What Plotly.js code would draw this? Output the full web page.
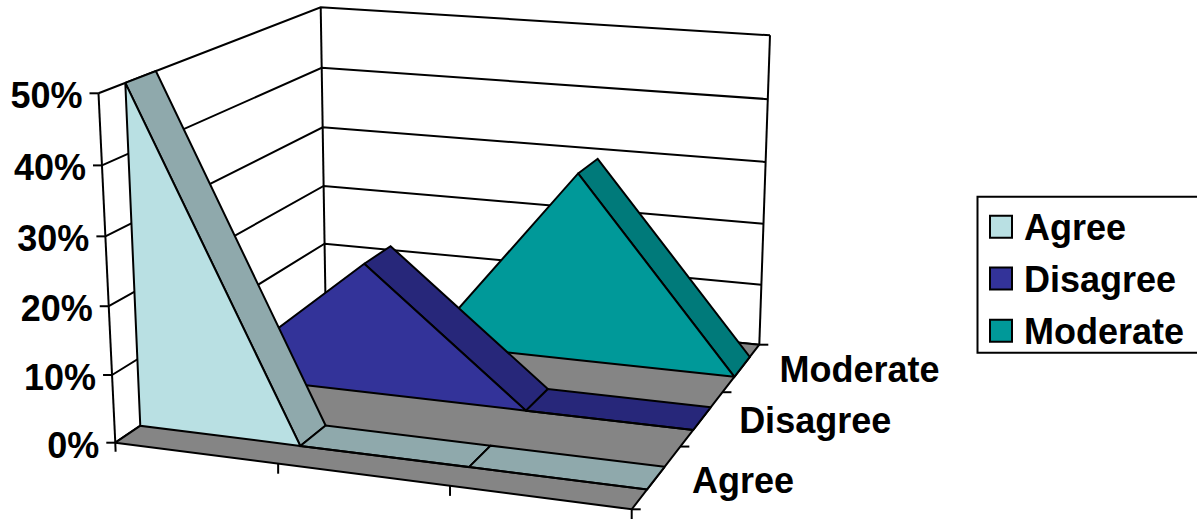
<!DOCTYPE html>
<html>
<head>
<meta charset="utf-8">
<script src="https://cdn.plot.ly/plotly-3.0.1.min.js"></script>
<style>html,body{margin:0;padding:0;background:#fff}#chart{width:1197px;height:519px}</style>
</head>
<body>
<div id="chart"></div>
<script>
// Responses per series at four unlabelled points along the horizontal axis (percent)
const seriesNames = ['Agree', 'Disagree', 'Moderate'];
const agreeValues = [50, 0, 0, 0];
const disagreeValues = [0, 20, 0, 0];
const moderateValues = [0, 0, 30, 0];
const percentTicks = [0, 10, 20, 30, 40, 50];

const frontColors = ['#B9E0E3', '#333399', '#009999'];
const sideColors = ['#8FA9AC', '#27277A', '#007A7A'];
const floorColor = '#858585';
const ink = '#000000';
const FONT = {family: '"Liberation Sans", Arial, sans-serif', size: 36, color: ink, weight: 700};

// Depth interval occupied by each series on the floor (0 = front, 1 = back)
const depthFront = [0.10, 0.43, 0.77];
const depthBack = [0.22, 0.57, 0.91];

// Corners of the floor and of the 50% plane, ordered front-left, front-right, back-right, back-left
const floorQuad = [[115.3, 442.7], [631.7, 509.3], [759.3, 344.7], [325.5, 300.5]];
const topQuad = [[98.5, 93.3], [638.6, 139.3], [770, 35.3], [320.7, 7.3]];

function homography(q) {
  const [[x0, y0], [x1, y1], [x2, y2], [x3, y3]] = q;
  const dx1 = x1 - x2, dx2 = x3 - x2, sx = x0 - x1 + x2 - x3;
  const dy1 = y1 - y2, dy2 = y3 - y2, sy = y0 - y1 + y2 - y3;
  const det = dx1 * dy2 - dx2 * dy1;
  const g = (sx * dy2 - dx2 * sy) / det, h = (dx1 * sy - sx * dy1) / det;
  const a = x1 - x0 + g * x1, b = x3 - x0 + h * x3;
  const d = y1 - y0 + g * y1, e = y3 - y0 + h * y3;
  return (u, v) => {
    const w = g * u + h * v + 1;
    return [(a * u + b * v + x0) / w, (d * u + e * v + y0) / w];
  };
}
const floorMap = homography(floorQuad);
const topMap = homography(topQuad);
const ZMAX = 50;

// Projects (position along x, depth, percent) onto the page
function project(u, v, pct) {
  const z = pct / ZMAX;
  const t = z / (z + (1 - z) * 1.04);
  const p0 = floorMap(u, v), p1 = topMap(u, v);
  return [p0[0] + (p1[0] - p0[0]) * t, p0[1] + (p1[1] - p0[1]) * t];
}

const traces = [];
function path(points, opts) {
  opts = opts || {};
  const closed = !!opts.fill;
  const pts = closed ? points.concat([points[0]]) : points;
  traces.push({
    type: 'scatter', mode: 'lines', hoverinfo: 'skip', showlegend: false,
    x: pts.map(p => p[0]), y: pts.map(p => p[1]),
    line: {color: ink, width: opts.width || 2, simplify: false},
    fill: closed ? 'toself' : 'none', fillcolor: opts.fill
  });
}

// Back wall and side wall gridlines
percentTicks.forEach(p => {
  path([project(0, 0, p), project(0, 1, p), project(1, 1, p)], {width: 2});
});
path([project(0, 1, 0), project(0, 1, 50)], {width: 2});
path([project(1, 1, 0), project(1, 1, 50)], {width: 2});
path([project(0, 0, 0), project(0, 0, 50)], {width: 2});

// Floor
path([project(0, 0, 0), project(1, 0, 0), project(1, 1, 0), project(0, 1, 0)], {fill: floorColor});

// Tick marks on the three axes
percentTicks.forEach(p => {
  const a = project(0, 0, p);
  path([[a[0] - 9, a[1]], a], {width: 2});
});
path([project(0, 0, 0), [project(0, 0, 0)[0] + 0.3, project(0, 0, 0)[1] + 9]], {width: 2});
[1, 2, 3].forEach(i => {
  const a = project(i / 3, 0, 0);
  path([a, [a[0], a[1] + 10]], {width: 2});
});
[0, 1, 2, 3].forEach(i => {
  const a = project(1, i / 3, 0);
  path([a, [a[0] + 9, a[1]]], {width: 2});
});

// One ribbon per series, back to front
const seriesValues = [agreeValues, disagreeValues, moderateValues];
[2, 1, 0].forEach(s => {
  const vals = seriesValues[s], last = vals.length - 1;
  const vf = depthFront[s], vb = depthBack[s];
  const at = (i, v) => project(i / last, v, vals[i]);
  // Top surface: only segments that do not climb face the viewer
  for (let i = 0; i < last; i++) {
    if (vals[i + 1] > vals[i]) continue;
    path([at(i, vf), at(i + 1, vf), at(i + 1, vb), at(i, vb)], {fill: sideColors[s]});
  }
  // Front face
  const outline = vals.map((_, i) => at(i, vf));
  for (let i = last; i >= 0; i--) outline.push(project(i / last, vf, 0));
  path(outline, {fill: frontColors[s]});
});

// Percent labels
traces.push({
  type: 'scatter', mode: 'text', hoverinfo: 'skip', showlegend: false,
  x: percentTicks.map(p => project(0, 0, p)[0] - 16),
  y: percentTicks.map(p => project(0, 0, p)[1] + 6),
  text: percentTicks.map(p => p + '%'),
  textposition: 'middle left', textfont: FONT, cliponaxis: false
});

// Series names along the depth axis
const depthCenters = [1 / 6, 1 / 2, 5 / 6];
const nameShiftX = [35, 37, 38];
const nameShiftY = [7, 6, 5];
traces.push({
  type: 'scatter', mode: 'text', hoverinfo: 'skip', showlegend: false,
  x: depthCenters.map((v, i) => project(1, v, 0)[0] + nameShiftX[i]),
  y: depthCenters.map((v, i) => project(1, v, 0)[1] + nameShiftY[i]),
  text: seriesNames,
  textposition: 'middle right', textfont: FONT, cliponaxis: false
});

// Legend key: swatches, then names
const keyY = [226.7, 278.5, 330.7];
traces.push({
  type: 'scatter', mode: 'markers', hoverinfo: 'skip', showlegend: false,
  x: [1001, 1001, 1001], y: keyY,
  marker: {symbol: 'square', size: 22, color: frontColors, line: {color: ink, width: 2}}
});
traces.push({
  type: 'scatter', mode: 'text', hoverinfo: 'skip', showlegend: false,
  x: [1024, 1024, 1024], y: keyY.map(y => y + 4),
  text: seriesNames,
  textposition: 'middle right', textfont: FONT, cliponaxis: false
});

const layout = {
  width: 1197, height: 519, margin: {l: 0, r: 0, t: 0, b: 0},
  paper_bgcolor: '#ffffff', plot_bgcolor: '#ffffff', showlegend: false,
  xaxis: {range: [0, 1197], visible: false, fixedrange: true},
  yaxis: {range: [519, 0], visible: false, fixedrange: true},
  shapes: [{
    type: 'rect', layer: 'below', xref: 'x', yref: 'y',
    x0: 977.5, x1: 1198, y0: 196.7, y1: 352.7,
    line: {color: ink, width: 2}, fillcolor: '#ffffff'
  }]
};
Plotly.newPlot('chart', traces, layout, {displayModeBar: false, staticPlot: true});
</script>
</body>
</html>
